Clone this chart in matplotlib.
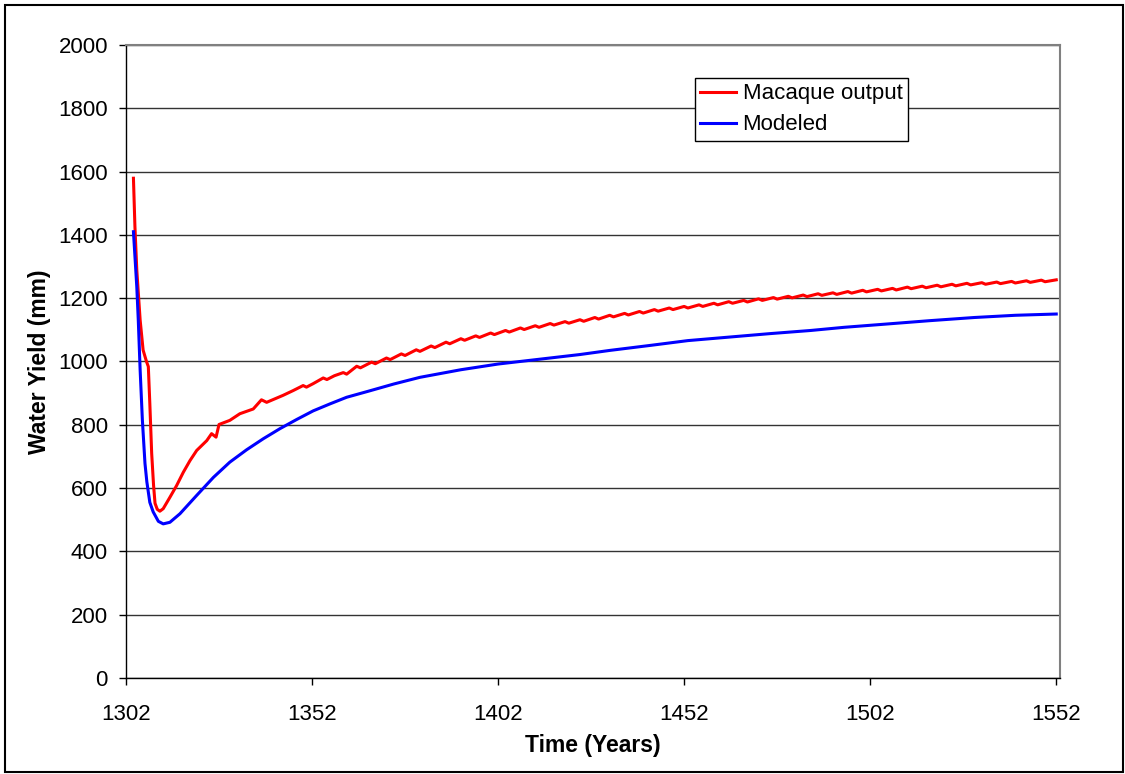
import matplotlib.pyplot as plt
from matplotlib.patches import Rectangle

plt.rcParams['font.family'] = ['Liberation Sans', 'DejaVu Sans']

# Macaque output (red)
red_years = [1304, 1304.4, 1304.9, 1305.8, 1306.6, 1307.5, 1308, 1308.4, 1308.9, 1309.4,
             1309.8, 1310.4, 1311.1, 1312, 1313.8, 1315.6, 1317.4, 1319.2, 1321, 1323.7,
             1325, 1326.2, 1327, 1329.9, 1332.6, 1336.2, 1338.4, 1339.8, 1342, 1344.2,
             1346.9, 1349.6, 1350.5, 1352.3, 1355, 1356, 1358, 1360.4, 1361.3,
             1364, 1365, 1368, 1369, 1372, 1373, 1376, 1377, 1380, 1381,
             1384, 1385, 1388, 1389, 1392, 1393, 1396, 1397, 1400, 1401,
             1404, 1405, 1408, 1409, 1412, 1413, 1416, 1417, 1420, 1421,
             1424, 1425, 1428, 1429, 1432, 1433, 1436, 1437, 1440, 1441,
             1444, 1445, 1448, 1449, 1452, 1453, 1456, 1457, 1460, 1461,
             1464, 1465, 1468, 1469, 1472, 1473, 1476, 1477, 1480, 1481,
             1484, 1485, 1488, 1489, 1492, 1493, 1496, 1497, 1500, 1501,
             1504, 1505, 1508, 1509, 1512, 1513, 1516, 1517, 1520, 1521,
             1524, 1525, 1528, 1529, 1532, 1533, 1536, 1537, 1540, 1541,
             1544, 1545, 1548, 1549, 1552]
red_vals = [1579, 1426, 1289, 1131, 1036, 1000, 984, 868, 710, 610,
            552, 533, 527, 535, 571, 608, 650, 687, 719, 750,
            772, 761, 801, 814, 835, 850, 879, 871, 882, 893,
            908, 924, 919, 930, 948, 943, 955, 965, 960,
            985, 980, 998, 993, 1011, 1006, 1024, 1019, 1037, 1032,
            1049, 1044, 1061, 1056, 1072, 1067, 1081, 1076, 1090, 1085,
            1098, 1093, 1106, 1101, 1113, 1108, 1120, 1115, 1126, 1121,
            1132, 1127, 1139, 1134, 1146, 1141, 1152, 1147, 1158, 1153,
            1164, 1159, 1169, 1164, 1174, 1169, 1179, 1174, 1184, 1179,
            1189, 1184, 1193, 1188, 1198, 1193, 1202, 1197, 1206, 1201,
            1210, 1205, 1214, 1209, 1217, 1212, 1221, 1216, 1225, 1220,
            1228, 1223, 1231, 1226, 1235, 1230, 1238, 1233, 1241, 1236,
            1244, 1239, 1247, 1242, 1249, 1244, 1251, 1246, 1253, 1248,
            1255, 1250, 1257, 1252, 1258]

# Modeled (blue)
blue_years = [1304, 1304.9, 1305.3, 1305.8, 1306.4, 1307.1, 1307.6, 1308.4, 1309.3, 1310.7,
              1312, 1313.8, 1316.5, 1321, 1325.5, 1329.9, 1334.4, 1338.9, 1343.4, 1347.9,
              1352.3, 1356.8, 1361.3, 1367.1, 1374, 1381, 1392, 1402, 1413, 1424,
              1432, 1443, 1453, 1464, 1475, 1486, 1495, 1506, 1518, 1530, 1541, 1552]
blue_vals = [1410, 1236, 1131, 973, 815, 678, 620, 555, 525, 495,
             487, 492, 519, 577, 634, 682, 721, 756, 788, 817,
             844, 866, 887, 906, 929, 950, 974, 992, 1007, 1022,
             1035, 1051, 1066, 1077, 1088, 1098, 1108, 1118, 1129, 1139, 1146, 1150]

xticks = [1302, 1352, 1402, 1452, 1502, 1552]
yticks = list(range(0, 2001, 200))

fig = plt.figure(figsize=(11.25, 7.74), dpi=100)
ax = fig.add_axes([0.112, 0.124, 0.8302, 0.8179])

ax.plot(red_years, red_vals, color='#ff0000', lw=2.2, label='Macaque output')
ax.plot(blue_years, blue_vals, color='#0000ff', lw=2.2, label='Modeled')

ax.set_xlim(1302, 1553)
ax.set_ylim(0, 2000)
ax.set_xticks(xticks)
ax.set_yticks(yticks)
ax.yaxis.grid(True, color='#333333', lw=1)
ax.set_axisbelow(True)

for s in ['top', 'right']:
    ax.spines[s].set_color('#808080')
    ax.spines[s].set_linewidth(1.5)
for s in ['left', 'bottom']:
    ax.spines[s].set_color('black')
    ax.spines[s].set_linewidth(1)

ax.tick_params(axis='both', direction='out', length=5, width=1, labelsize=16)
ax.tick_params(axis='y', pad=8)
ax.tick_params(axis='x', pad=14)

ax.set_xlabel('Time (Years)', fontsize=16.5, fontweight='bold', labelpad=6)
ax.set_ylabel('Water Yield (mm)', fontsize=16.5, fontweight='bold', labelpad=5)

leg = ax.legend(loc='upper left', bbox_to_anchor=(0.609, 0.948), fontsize=16,
                frameon=True, fancybox=False, framealpha=1, edgecolor='black',
                handlelength=1.6, handletextpad=0.3, borderpad=0.25,
                labelspacing=0.45, borderaxespad=0)
leg.get_frame().set_linewidth(1)

fig.patches.append(Rectangle((5 / 1125, 2 / 774), 1118 / 1125, 767 / 774,
                             transform=fig.transFigure, fill=False,
                             edgecolor='black', lw=1.5))

fig.savefig('out.png', dpi=100)
